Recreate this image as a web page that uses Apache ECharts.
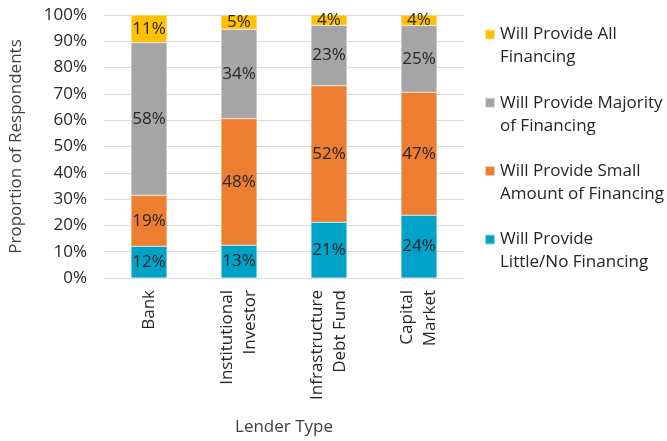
<!DOCTYPE html>
<html><head><meta charset="utf-8">
<script src="https://cdn.jsdelivr.net/npm/echarts@6/dist/echarts.min.js"></script>
<style>html,body{margin:0;padding:0;background:#fff}#c{width:667px;height:441px}</style>
</head><body><div id="c"></div>
<script>
const categories = ['Bank', 'Institutional\nInvestor', 'Infrastructure\nDebt Fund', 'Capital\nMarket'];
const littleNone = [12.1, 12.5, 21.2, 23.9];
const smallAmount = [19.3, 48.1, 51.9, 46.7];
const majority = [58.1, 34.0, 23.0, 25.4];
const allFinancing = [10.5, 5.4, 3.9, 4.0];
const seriesNames = ['Will Provide\nLittle/No Financing', 'Will Provide Small\nAmount of Financing', 'Will Provide Majority\nof Financing', 'Will Provide All\nFinancing'];
const colors = ['#00A2C8', '#ED7D31', '#A5A5A5', '#FFC000'];
const yTicks = [0, 10, 20, 30, 40, 50, 60, 70, 80, 90, 100];

const font = '"Open Sans", "Noto Sans", sans-serif';
const values = [littleNone, smallAmount, majority, allFinancing];
const chart = echarts.init(document.getElementById('c'), null, {renderer: 'canvas'});
const iconPath = 'path://M0,0H10V10H0Z M5,32.95H5.01V33H5Z';
chart.setOption({
  animation: false,
  textStyle: {fontFamily: font},
  grid: {left: 101, right: 203, top: 15, bottom: 162, containLabel: false},
  legend: {
    orient: 'vertical', left: 479, top: 18,
    data: seriesNames.slice().reverse(),
    icon: iconPath, itemWidth: 10, itemHeight: 33, itemGap: 22.3,
    textStyle: {fontFamily: font, fontSize: 17, color: '#262626', lineHeight: 23},
    selectedMode: false
  },
  xAxis: {
    type: 'category', data: categories,
    name: 'Lender Type', nameLocation: 'middle', nameGap: 141,
    nameTextStyle: {fontFamily: font, fontSize: 17, color: '#404040'},
    axisLine: {lineStyle: {color: '#D9D9D9'}},
    axisTick: {show: false},
    axisLabel: {rotate: 90, margin: 12, fontFamily: font, fontSize: 17, color: '#262626', lineHeight: 23}
  },
  yAxis: {
    type: 'value', min: 0, max: 100, interval: 10,
    name: 'Proportion of Respondents', nameLocation: 'middle', nameGap: 79,
    nameTextStyle: {fontFamily: font, fontSize: 17, color: '#404040'},
    axisLine: {show: false}, axisTick: {show: false},
    splitLine: {lineStyle: {color: '#D9D9D9'}},
    axisLabel: {fontFamily: font, fontSize: 17, color: '#262626', margin: 17,
      formatter: v => yTicks.includes(v) ? v + '%' : ''}
  },
  series: seriesNames.map((n, i) => ({
    name: n, type: 'bar', stack: 'total', barWidth: '40%',
    data: values[i],
    itemStyle: {color: colors[i], borderColor: 'rgba(255,255,255,0.6)', borderWidth: 0.5},
    label: {show: true, position: 'inside', fontFamily: font, fontSize: 17, color: '#262626',
      formatter: p => Math.round(p.value) + '%'}
  }))
});
</script></body></html>
